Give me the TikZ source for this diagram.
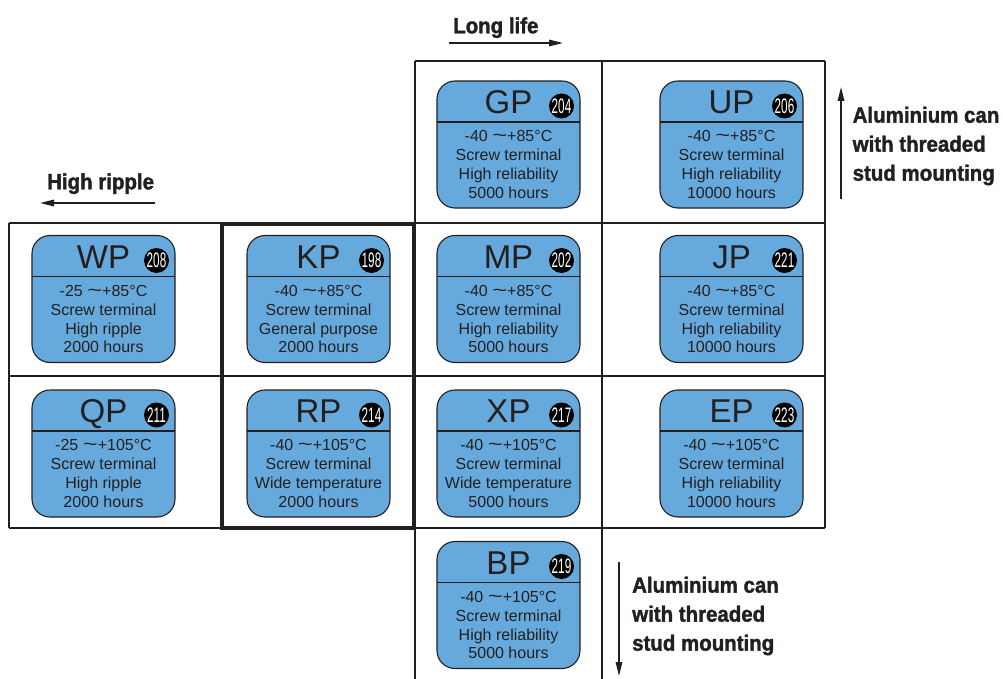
\documentclass[tikz,border=0pt]{standalone}
\usepackage{fontspec}
\setmainfont{Liberation Sans}
\newfontfamily\labelfont[FakeStretch=0.93,FakeBold=1.6]{Liberation Sans Bold}
\newfontfamily\badgefont[FakeStretch=0.56]{Liberation Sans}
\usetikzlibrary{arrows.meta}
\definecolor{capblue}{RGB}{102,170,221}
\definecolor{ink}{RGB}{35,31,32}
\tikzset{
  grid/.style={draw=ink, line width=1.1pt},
  frame/.style={draw=ink, line width=3.8pt},
  capbody/.style={draw=ink, line width=1.1pt, fill=capblue, rounded corners=18pt,
    minimum width=143pt, minimum height=127pt, inner sep=0pt, outer sep=0pt},
  capline/.style={draw=ink, line width=1.1pt},
  captitle/.style={anchor=base, inner sep=0pt, text=ink, font=\fontsize{33}{33}\selectfont},
  capbadge/.style={circle, fill=black, minimum size=25pt, inner sep=0pt, text=white,
    font=\badgefont\fontsize{21}{21}\selectfont},
  captext/.style={anchor=base, inner sep=0pt, text=ink, font=\fontsize{16}{16}\selectfont},
  sidelabel/.style={inner sep=0pt, text=ink, align=left,
    font=\labelfont\fontsize{22}{29}\selectfont},
  dirarrow/.style={draw=ink, line width=1.6pt, -{Triangle[length=14pt,width=6.5pt]}},
}
% one capacitor series box: name, x, y, series, page, four description lines
\newcommand\capbox[9]{%
  \node[capbody] (#1) at (#2,#3) {};
  \draw[capline] ([yshift=-41pt]#1.north west) -- ([yshift=-41pt]#1.north east);
  \node[captitle] (#1-name) at ([yshift=-32.5pt]#1.north) {#4};
  \node[capbadge] (#1-page) at ([xshift=53pt,yshift=-25pt]#1.north) {#5};
  \node[captext] (#1-a) at ([yshift=-60.7pt]#1.north) {#6};
  \node[captext] (#1-b) at ([yshift=-79.6pt]#1.north) {#7};
  \node[captext] (#1-c) at ([yshift=-98.5pt]#1.north) {#8};
  \node[captext] (#1-d) at ([yshift=-117.4pt]#1.north) {#9};
}
% wide wave sign used in the temperature ranges
\newcommand\tl{\scalebox{1.6}[1.15]{\textasciitilde}}
\begin{document}
\begin{tikzpicture}[x=1pt,y=-1pt]
\useasboundingbox (0,0) rectangle (1003,679);

% table grid
\draw[grid] (415,61) -- (825,61);
\draw[grid] (9,223) -- (825,223);
\draw[grid] (9,376) -- (825,376);
\draw[grid] (9,528) -- (825,528);
\draw[grid] (9,223) -- (9,528);
\draw[grid] (222,223) -- (222,528);
\draw[grid] (415,61) -- (415,679);
\draw[grid] (602,61) -- (602,679);
\draw[grid] (825,61) -- (825,528);
\draw[frame] (222,224.5) rectangle (414,528);

% series boxes
\capbox{gp}{508.5}{144.5}{GP}{204}{-40 \tl+85°C}{Screw terminal}{High reliability}{5000 hours}
\capbox{up}{731.5}{144.5}{UP}{206}{-40 \tl+85°C}{Screw terminal}{High reliability}{10000 hours}
\capbox{wp}{103.5}{299}{WP}{208}{-25 \tl+85°C}{Screw terminal}{High ripple}{2000 hours}
\capbox{kp}{318.5}{299}{KP}{198}{-40 \tl+85°C}{Screw terminal}{General purpose}{2000 hours}
\capbox{mp}{508.5}{299}{MP}{202}{-40 \tl+85°C}{Screw terminal}{High reliability}{5000 hours}
\capbox{jp}{731.5}{299}{JP}{221}{-40 \tl+85°C}{Screw terminal}{High reliability}{10000 hours}
\capbox{qp}{103.5}{453.5}{QP}{211}{-25 \tl+105°C}{Screw terminal}{High ripple}{2000 hours}
\capbox{rp}{318.5}{453.5}{RP}{214}{-40 \tl+105°C}{Screw terminal}{Wide temperature}{2000 hours}
\capbox{xp}{508.5}{453.5}{XP}{217}{-40 \tl+105°C}{Screw terminal}{Wide temperature}{5000 hours}
\capbox{ep}{731.5}{453.5}{EP}{223}{-40 \tl+105°C}{Screw terminal}{High reliability}{10000 hours}
\capbox{bp}{508.5}{605}{BP}{219}{-40 \tl+105°C}{Screw terminal}{High reliability}{5000 hours}

% direction labels
\node[sidelabel, anchor=base west] (life) at (453,33.3) {Long life};
\coordinate (life-s) at (449,43);
\coordinate (life-e) at (563,43);
\draw[dirarrow] (life-s) -- (life-e);

\node[sidelabel, anchor=base west] (ripple) at (47,189.3) {High ripple};
\coordinate (ripple-s) at (155,203);
\coordinate (ripple-e) at (40,203);
\draw[dirarrow] (ripple-s) -- (ripple-e);

\node[sidelabel, anchor=west] (stud-up) at (852.5,146) {Aluminium can\\with threaded\\stud mounting};
\coordinate (stud-up-s) at (841,199);
\coordinate (stud-up-e) at (841,87);
\draw[dirarrow] (stud-up-s) -- (stud-up-e);

\node[sidelabel, anchor=west] (stud-dn) at (632,616) {Aluminium can\\with threaded\\stud mounting};
\coordinate (stud-dn-s) at (619,562);
\coordinate (stud-dn-e) at (619,676);
\draw[dirarrow] (stud-dn-s) -- (stud-dn-e);
\end{tikzpicture}
\end{document}
